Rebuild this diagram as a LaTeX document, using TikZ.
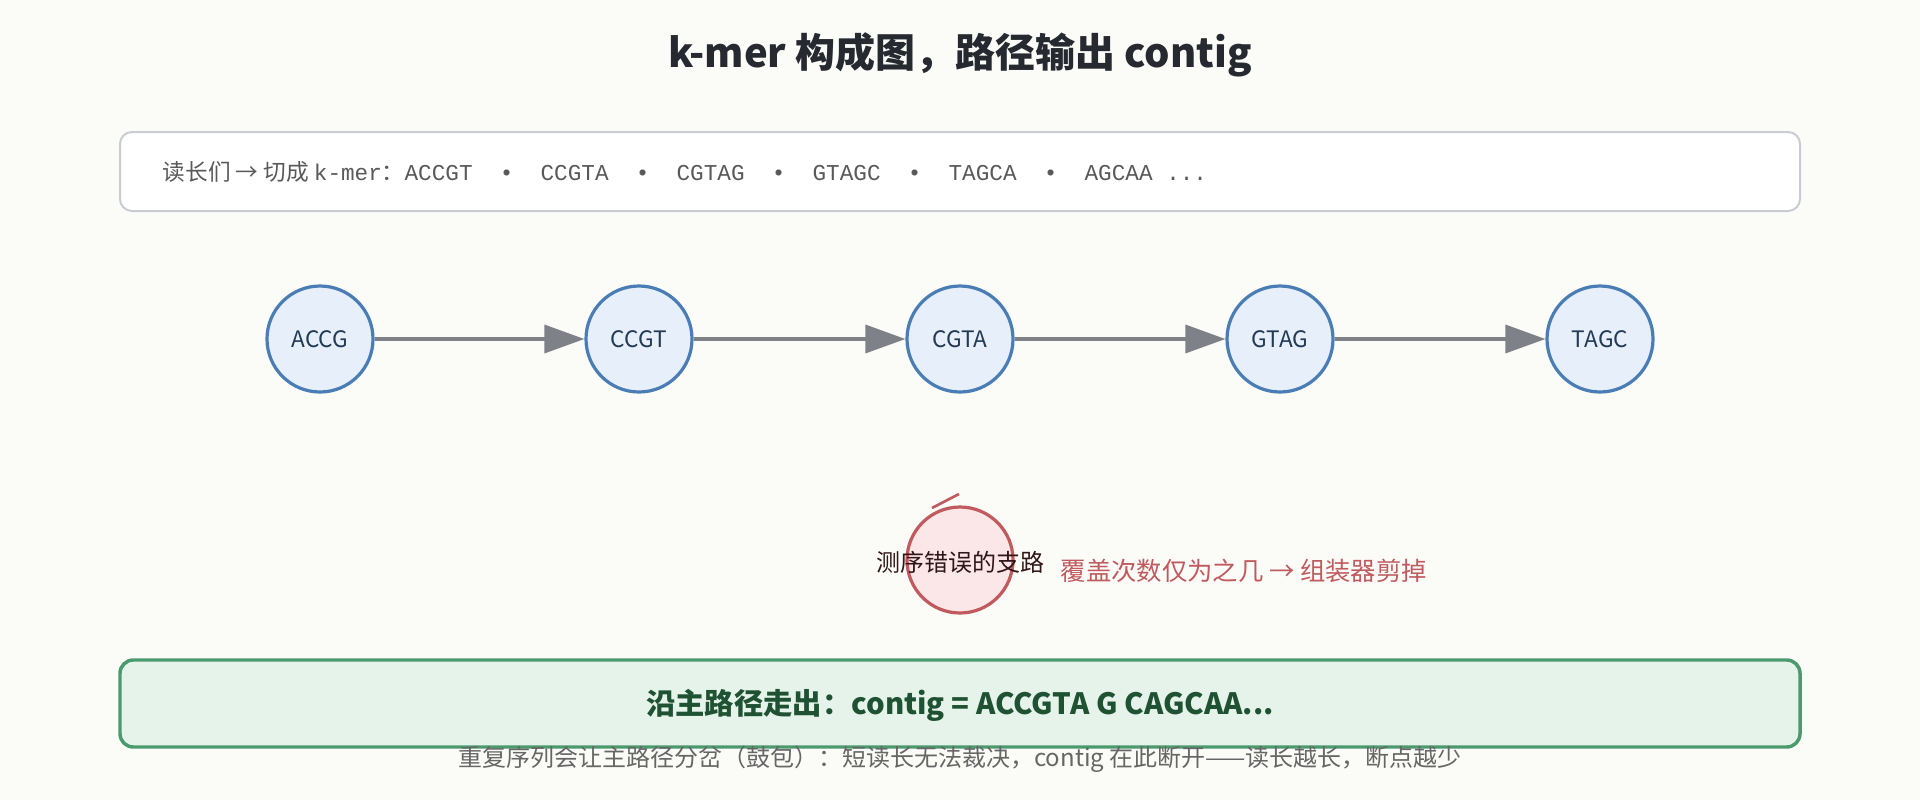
\documentclass[tikz,border=0pt]{standalone}
\usepackage{fontspec}
\setmainfont{Noto Sans CJK SC}
\newfontfamily\monof{Liberation Mono}
\newfontfamily\cjkf{Noto Sans CJK SC}
\usetikzlibrary{arrows.meta}
\definecolor{bg}{HTML}{FBFCF8}
\definecolor{nfill}{HTML}{E7EFFA}
\definecolor{nline}{HTML}{4A7DB5}
\definecolor{ntext}{HTML}{233A55}
\definecolor{arr}{HTML}{7F8189}
\definecolor{rfill}{HTML}{FBE7E8}
\definecolor{rline}{HTML}{C05A5E}
\definecolor{gfill}{HTML}{E6F3EA}
\definecolor{gline}{HTML}{4A9A6E}
\definecolor{gtext}{HTML}{1F5233}
\definecolor{boxline}{HTML}{C9CCD1}
\definecolor{ttext}{HTML}{262A30}
\begin{document}
\begin{tikzpicture}[x=0.75pt,y=-0.75pt,
  kmer/.style={circle,draw=nline,fill=nfill,line width=2.4pt,minimum size=79.5pt,inner sep=0pt,text=ntext,font=\fontsize{17}{20}\selectfont},
  edge/.style={draw=arr,line width=2.6pt,-{Triangle[length=30pt,width=21pt]}}]
\fill[bg] (0,0) rectangle (1920,800);
\useasboundingbox (0,0) rectangle (1920,800);
\node[text=ttext,font=\fontsize{30}{34}\selectfont\bfseries] (title) at (960,55) {k-mer 构成图，路径输出 contig};
\draw[boxline,line width=1.5pt,fill=white,rounded corners=9pt] (120,132) rectangle (1800,211);
\node[anchor=west,text=black!65,font=\fontsize{17}{20}\selectfont] (reads) at (158,172) {\cjkf 读长们 → 切成 \monof k-mer\cjkf ：\monof ACCGT \ • \ CCGTA \ • \ CGTAG \ • \ GTAGC \ • \ TAGCA \ • \ AGCAA ...};
\node[kmer] (n1) at (320,339) {ACCG};
\node[kmer] (n2) at (639,339) {CCGT};
\node[kmer] (n3) at (960,339) {CGTA};
\node[kmer] (n4) at (1280,339) {GTAG};
\node[kmer] (n5) at (1600,339) {TAGC};
\draw[edge] (n1) -- (n2);
\draw[edge] (n2) -- (n3);
\draw[edge] (n3) -- (n4);
\draw[edge] (n4) -- (n5);
\node[circle,draw=rline,fill=rfill,line width=2.4pt,minimum size=79.5pt,inner sep=0pt] (err) at (960,560) {};
\node[text=black!75!rline,font=\fontsize{18}{21}\selectfont] (errl) at (960,562) {测序错误的支路};
\coordinate (s1) at (932,508);
\coordinate (s2) at (959,494);
\draw[rline,line width=2pt] (s1) -- (s2);
\node[anchor=west,text=rline,font=\fontsize{19}{22}\selectfont] (note) at (1056,571) {覆盖次数仅为之几 → 组装器剪掉};
\draw[gline,line width=2.6pt,fill=gfill,rounded corners=10pt] (120,660) rectangle (1800,747);
\node[text=gtext,font=\fontsize{22}{26}\selectfont\bfseries] (contig) at (960,705) {沿主路径走出：contig = ACCGTA G CAGCAA...};
\node[text=black!60,font=\fontsize{18}{21}\selectfont] (foot) at (960,759) {重复序列会让主路径分岔（鼓包）：短读长无法裁决，contig 在此断开——读长越长，断点越少};
\end{tikzpicture}
\end{document}
